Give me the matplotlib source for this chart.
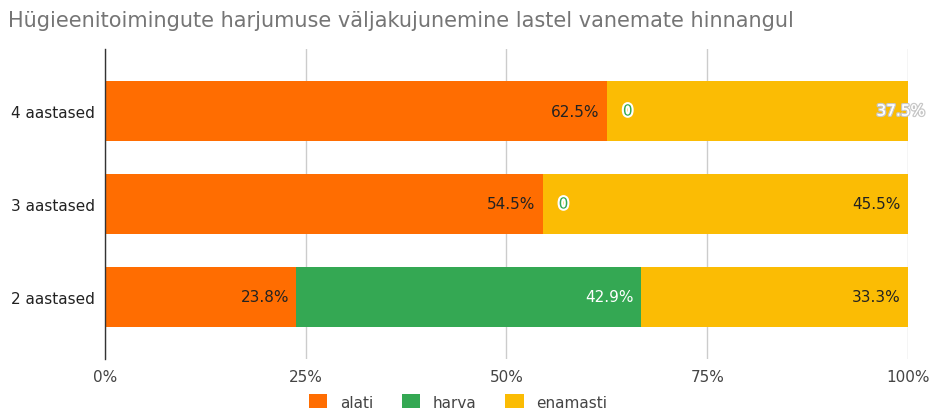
import matplotlib
matplotlib.use("Agg")
import matplotlib.pyplot as plt
import matplotlib.patheffects as pe
from matplotlib.patches import Patch

plt.rcParams['font.family'] = ['DejaVu Sans']

categories = ["2 aastased", "3 aastased", "4 aastased"]
alati = [23.8, 54.5, 62.5]
harva = [42.9, 0.0, 0.0]
enamasti = [33.3, 45.5, 37.5]
series_names = ["alati", "harva", "enamasti"]
colors = ["#FF6D01", "#34A853", "#FBBC04"]
ticks = [0, 25, 50, 75, 100]
tick_labels = ["0%", "25%", "50%", "75%", "100%"]
title = "Hügieenitoimingute harjumuse väljakujunemine lastel vanemate hinnangul"

W, H = 931, 410
FS = 11
fig = plt.figure(figsize=(W / 100, H / 100), dpi=100)
ax = fig.add_axes([105 / W, 1 - 360 / H, (908 - 105) / W, (360 - 50) / H])

y = list(range(len(categories)))
series = [alati, harva, enamasti]
left = [0.0] * len(categories)
for vals, col in zip(series, colors):
    ax.barh(y, vals, left=left, height=0.645, color=col, zorder=2)
    left = [l + v for l, v in zip(left, vals)]

# value labels
for i in range(len(categories)):
    lefts = [0.0, alati[i], alati[i] + harva[i]]
    for j, vals in enumerate(series):
        v = vals[i]
        end = lefts[j] + v
        if v == 0:
            ax.annotate("0", (end, i), xytext=(16, 0), textcoords="offset pixels",
                        ha="left", va="center", fontsize=FS, color="#34A853",
                        zorder=5, annotation_clip=False,
                        path_effects=[pe.withStroke(linewidth=3, foreground="white")])
            continue
        txt = f"{v:.1f}%"
        if j == 1:
            ax.annotate(txt, (end, i), xytext=(-7, 0), textcoords="offset pixels",
                        ha="right", va="center", fontsize=FS, color="white", zorder=5)
        elif j == 2 and i == 2:
            ax.annotate(txt, (end, i), xytext=(17, 0), textcoords="offset pixels",
                        ha="right", va="center", fontsize=FS, color="white", zorder=5,
                        annotation_clip=False,
                        path_effects=[pe.withStroke(linewidth=2.0, foreground="#C8C8C8"),
                                      pe.Normal()])
        else:
            ax.annotate(txt, (end, i), xytext=(-7, 0), textcoords="offset pixels",
                        ha="right", va="center", fontsize=FS, color="#222222", zorder=5)

ax.set_xlim(0, 100)
ax.set_ylim(-0.667, 2.667)
ax.set_yticks(y)
ax.set_yticklabels(categories, fontsize=FS, color="#222222")
ax.set_xticks(ticks)
ax.set_xticklabels(tick_labels, fontsize=FS, color="#444444")
ax.tick_params(axis="both", length=0)
ax.tick_params(axis="y", pad=7)
ax.tick_params(axis="x", pad=7)
for s in ["top", "right", "bottom"]:
    ax.spines[s].set_visible(False)
ax.spines["left"].set_color("#333333")
ax.spines["left"].set_linewidth(1)
ax.spines["left"].set_zorder(4)
ax.grid(axis="x", color="#CCCCCC", linewidth=1, zorder=0)
ax.set_axisbelow(True)

fig.text(8 / W, 1 - 21 / H, title, fontsize=15, color="#757575", ha="left", va="center")

handles = [Patch(facecolor=c, edgecolor="none") for c in colors]
fig.legend(handles, series_names, loc="center", bbox_to_anchor=(458 / W, 1 - 403 / H),
           ncol=3, frameon=False, fontsize=FS, handlelength=1.2, handleheight=1.0,
           columnspacing=1.9, handletextpad=0.8, labelcolor="#444444")

fig.savefig("out.png", dpi=100)
